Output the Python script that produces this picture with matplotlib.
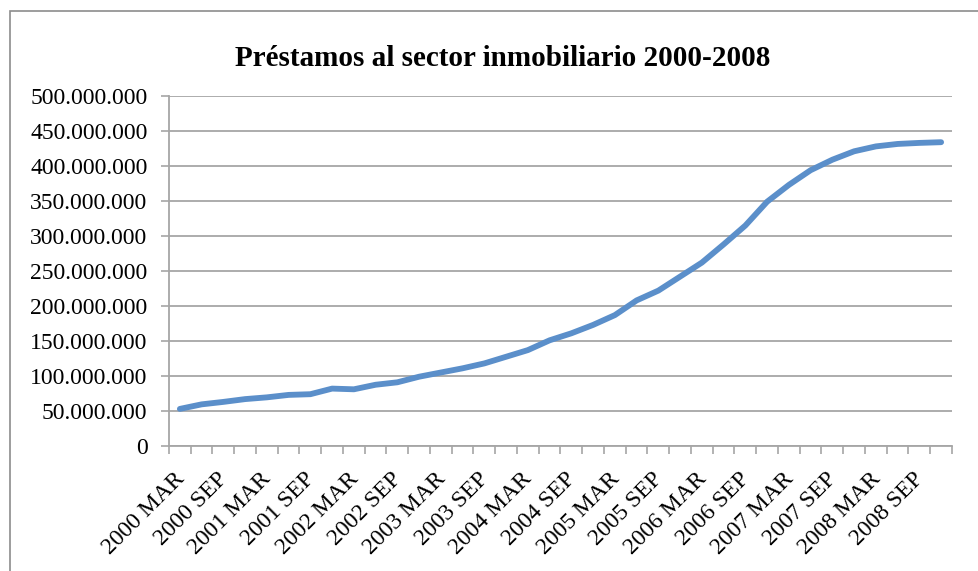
import matplotlib
matplotlib.use("Agg")
import matplotlib.pyplot as plt
from matplotlib.patches import Rectangle
from matplotlib.ticker import FuncFormatter, FixedLocator
import numpy as np

title = "Préstamos al sector inmobiliario 2000-2008"
years = list(range(2000, 2009))
quarters = ["MAR", "JUN", "SEP", "DIC"]
categories = [f"{y} {q}" for y in years for q in quarters]
values = [53, 59.5, 63, 67, 69.5, 73, 74, 82, 81, 87.5, 91, 99,
          105, 111, 118, 127.5, 137, 151, 161, 173, 187, 208, 222, 242,
          262, 288, 315, 349, 373, 394, 409, 421, 428, 431.5, 433, 434]
values = [v * 1e6 for v in values]
yticks = list(range(0, 500_000_001, 50_000_000))

plt.rcParams['font.family'] = ['Liberation Serif', 'DejaVu Serif']

fig = plt.figure(figsize=(9.79, 5.71), dpi=100)
ax = fig.add_axes([169/979, 1 - 446/571, (952 - 169)/979, 350/571])

x = np.arange(len(values))
ax.plot(x, values, color='#5B8FCA', linewidth=4.2, solid_capstyle='round', solid_joinstyle='round')

ax.set_xlim(-0.5, len(values) - 0.5)
ax.set_ylim(0, 500_000_000)
ax.set_yticks(yticks)
ax.yaxis.set_major_formatter(FuncFormatter(lambda v, p: "0" if v == 0 else f"{int(v):,}".replace(",", ".")))
ax.grid(axis='y', color='#A6A6A6', linewidth=1.3)
ax.set_axisbelow(True)

ax.xaxis.set_major_locator(FixedLocator(np.arange(-0.5, len(values), 1.0)))
ax.set_xticklabels([])
ax.tick_params(axis='x', which='major', length=5.5, width=1.2, color='#A6A6A6')
ax.tick_params(axis='y', length=5.5, width=1.2, color='#A6A6A6', labelsize=17, pad=10)

for i in range(0, len(values), 2):
    ax.text(i + 0.05, -0.085, categories[i], transform=ax.get_xaxis_transform(),
            rotation=45, ha='right', va='center', rotation_mode='anchor', fontsize=17)

for s in ['top', 'right']:
    ax.spines[s].set_visible(False)
for s in ['left', 'bottom']:
    ax.spines[s].set_color('#A6A6A6')
    ax.spines[s].set_linewidth(1.3)

fig.text(503/979, 1 - 58/571, title, ha='center', va='center', fontsize=21, fontweight='bold')

fig.patches.append(Rectangle((10/979, -0.01), 1.0, 1 - 11/571 + 0.01, transform=fig.transFigure,
                             fill=False, edgecolor='#8C8C8C', linewidth=1.2))

fig.savefig("out.png", dpi=100)
